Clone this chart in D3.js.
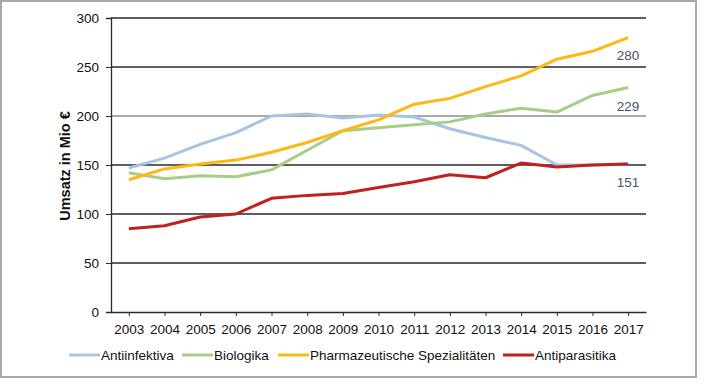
<!DOCTYPE html>
<html lang="de">
<head>
<meta charset="UTF-8">
<script src="https://d3js.org/d3.v7.min.js"></script>
<title>Umsatz in Mio €</title>
<style>
  body { margin: 0; background: #fff; }
  svg text { font-family: "Liberation Sans", Arial, sans-serif; }
</style>
</head>
<body>
<script>
// data
const years = ["2003","2004","2005","2006","2007","2008","2009","2010","2011","2012","2013","2014","2015","2016","2017"];
const antiinfektiva = [147, 157, 171, 183, 200, 202, 198, 201, 199, 187, 178, 170, 150, 150, 151];
const biologika = [142, 136, 139, 138, 145, 165, 185, 188, 191, 194, 202, 208, 204, 221, 229];
const pharma = [135, 146, 151, 155, 163, 173, 185, 196, 212, 218, 230, 241, 258, 266, 280];
const antiparasitika = [85, 88, 97, 100, 116, 119, 121, 127, 133, 140, 137, 152, 148, 150, 151];
const yTicks = [0, 50, 100, 150, 200, 250, 300];
const endLabels = [
    { value: 280, text: "280", y: 60 },
    { value: 229, text: "229", y: 111 },
    { value: 151, text: "151", y: 187 }
];

const series = [
    { name: "Antiinfektiva", values: antiinfektiva, color: "#a6c5e6" },
    { name: "Biologika", values: biologika, color: "#a8cd87" },
    { name: "Pharmazeutische Spezialitäten", values: pharma, color: "#fdb813" },
    { name: "Antiparasitika", values: antiparasitika, color: "#c0201f" }
];

const W = 704, H = 384;
const margin = { left: 111, right: 58, top: 18, bottom: 72 };
const plotW = W - margin.left - margin.right;
const plotH = H - margin.top - margin.bottom;

const svg = d3.select("body").append("svg")
    .attr("width", W)
    .attr("height", H);

// outer frame
svg.append("rect")
    .attr("x", 1).attr("y", 1)
    .attr("width", 695).attr("height", 376)
    .attr("fill", "#fff")
    .attr("stroke", "#a8a8a8")
    .attr("stroke-width", 2);

const g = svg.append("g")
    .attr("transform", "translate(" + margin.left + "," + margin.top + ")");

const x = d3.scalePoint()
    .domain(years)
    .range([0, plotW])
    .padding(0.5);

const y = d3.scaleLinear()
    .domain([0, 300])
    .range([plotH, 0]);

// gridlines
g.selectAll(".grid")
    .data(yTicks.filter(d => d > 0))
    .enter().append("line")
    .attr("x1", 0).attr("x2", plotW)
    .attr("y1", d => y(d)).attr("y2", d => y(d))
    .attr("stroke", d => d === 200 ? "#8c8c8c" : "#2a2a2a")
    .attr("stroke-width", 1.3);

// y axis
const yAxis = g.append("g")
    .call(d3.axisLeft(y).tickValues(yTicks).tickSize(5).tickPadding(7));
yAxis.select(".domain").attr("stroke", "#2a2a2a").attr("stroke-width", 1.3);
yAxis.selectAll(".tick line").attr("stroke", "#2a2a2a");
yAxis.selectAll("text")
    .attr("font-size", 13.5)
    .attr("fill", "#111")
    .style("font-family", "'Liberation Sans', Arial, sans-serif");

// x axis
const xAxis = g.append("g")
    .attr("transform", "translate(0," + plotH + ")")
    .call(d3.axisBottom(x).tickSizeInner(4).tickSizeOuter(0).tickPadding(8));
xAxis.select(".domain").attr("stroke", "#2a2a2a").attr("stroke-width", 1.3);
xAxis.selectAll(".tick line").attr("stroke", "#2a2a2a");
xAxis.selectAll("text")
    .attr("font-size", 13.5)
    .attr("fill", "#111")
    .style("font-family", "'Liberation Sans', Arial, sans-serif");

// y axis title
svg.append("text")
    .attr("transform", "translate(70," + (margin.top + plotH / 2 + 1) + ") rotate(-90)")
    .attr("text-anchor", "middle")
    .attr("font-size", 14.5)
    .attr("font-weight", "bold")
    .attr("fill", "#111")
    .text("Umsatz in Mio €");

// lines
const line = d3.line()
    .x((d, i) => x(years[i]))
    .y(d => y(d));

g.selectAll(".series")
    .data(series)
    .enter().append("path")
    .attr("fill", "none")
    .attr("stroke", d => d.color)
    .attr("stroke-width", 3)
    .attr("stroke-linejoin", "round")
    .attr("d", d => line(d.values));

// end labels
svg.selectAll(".endlabel")
    .data(endLabels)
    .enter().append("text")
    .attr("x", margin.left + x("2017") + 11)
    .attr("y", d => d.y)
    .attr("text-anchor", "end")
    .attr("font-size", 13.5)
    .attr("fill", "#44546a")
    .text(d => d.text);

// legend
const legendX = [69, 182, 278, 503];
const legend = svg.selectAll(".legend")
    .data(series)
    .enter().append("g")
    .attr("transform", (d, i) => "translate(" + legendX[i] + ",355)");
legend.append("line")
    .attr("x1", 0).attr("x2", 31)
    .attr("y1", 0).attr("y2", 0)
    .attr("stroke", d => d.color)
    .attr("stroke-width", 3);
legend.append("text")
    .attr("x", 32)
    .attr("y", 5)
    .attr("font-size", 13.5)
    .attr("fill", "#111")
    .text(d => d.name);
</script>
</body>
</html>
